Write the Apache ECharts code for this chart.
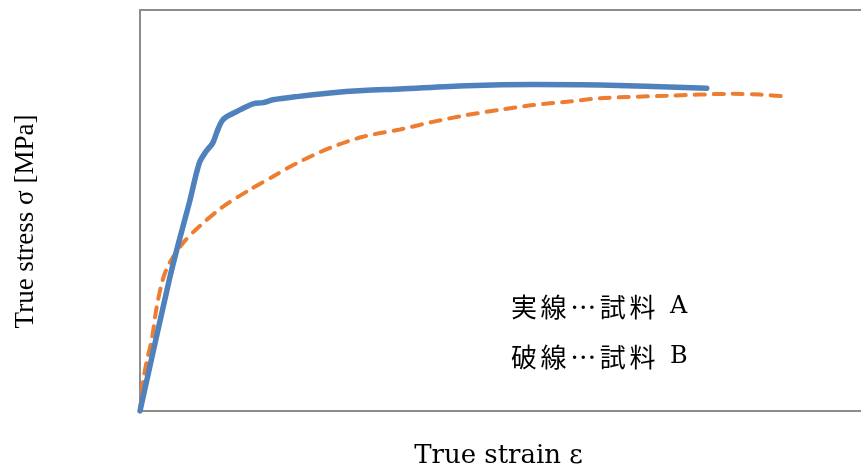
<!DOCTYPE html>
<html><head><meta charset="utf-8">
<script src="https://cdn.jsdelivr.net/npm/echarts@6/dist/echarts.min.js"></script>
<style>html,body{margin:0;padding:0;background:#fff}#c{width:861px;height:470px}</style>
</head><body><div id="c"></div>
<script>
// True strain (arbitrary units 0-100), true stress (arbitrary units 0-100)
const strainA = [0, 4.06, 5.45, 6.84, 8.22, 9.15, 10.08, 10.78, 11.37, 12.02, 13.87, 15.67, 17.06, 18.45, 21.73, 26.35, 30.93, 36.06, 45.31, 54.51, 63.8, 78.6];
const stressA = [0, 32.7, 42.6, 51.9, 61.8, 64.7, 66.8, 70.1, 72.3, 73.4, 75.1, 76.6, 76.9, 77.6, 78.4, 79.3, 79.9, 80.3, 81.1, 81.4, 81.3, 80.5];
const strainB = [0, 0.46, 0.97, 1.62, 2.32, 3.15, 4.06, 5.92, 8.22, 11.47, 15.16, 18.86, 21.73, 26.35, 30.93, 36.06, 40.6, 45.3, 49.9, 54.5, 59.2, 63.8, 73.0, 82.2, 86.0, 89.7];
const stressB = [0, 7.7, 12.7, 17.7, 26.0, 32.7, 36.8, 41.8, 46.0, 50.9, 55.1, 58.9, 61.8, 65.6, 68.4, 70.2, 72.1, 73.8, 75.1, 76.3, 77.1, 78.0, 78.6, 79.1, 78.9, 78.4];
const xTitle = 'True strain ε';
const yTitle = 'True stress σ [MPa]';
const notesJa = ['実線…試料', '破線…試料'];
const notesId = ['A', 'B'];

const chart = echarts.init(document.getElementById('c'));
const axisLineStyle = {show: true, lineStyle: {color: '#8c8c8c', width: 2}};
function noteText(ja, id) {
  return Array.from(ja).map(ch => '{c|' + ch + '}').join('') + '{l|' + id + '}';
}
chart.setOption({
  animation: false,
  backgroundColor: '#fff',
  grid: {left: 140, right: 0, top: 10, bottom: 59, containLabel: false, outerBoundsMode: 'none'},
  xAxis: [{
    type: 'value', min: 0, max: 100, position: 'bottom',
    axisLine: axisLineStyle, axisTick: {show: false}, axisLabel: {show: false}, splitLine: {show: false},
    name: xTitle, nameLocation: 'middle', nameGap: 32,
    nameTextStyle: {fontFamily: 'DejaVu Serif', fontSize: 26, color: '#000', padding: [0, 4, 0, 0]}
  }, {
    type: 'value', min: 0, max: 100, position: 'top',
    axisLine: axisLineStyle, axisTick: {show: false}, axisLabel: {show: false}, splitLine: {show: false}
  }],
  yAxis: [{
    type: 'value', min: 0, max: 100,
    axisLine: axisLineStyle, axisTick: {show: false}, axisLabel: {show: false}, splitLine: {show: false},
    name: yTitle, nameLocation: 'middle', nameGap: 101,
    nameTextStyle: {fontFamily: 'Liberation Serif', fontSize: 27, color: '#000', padding: [0, 22, 0, 0]}
  }],
  series: [{
    type: 'line', xAxisIndex: 0, smooth: 0.3, showSymbol: false,
    data: strainB.map((x, i) => [x, stressB[i]]),
    lineStyle: {color: '#ED7D31', width: 4, type: [10, 9], cap: 'round'}
  }, {
    type: 'line', xAxisIndex: 0, smooth: 0.3, showSymbol: false,
    data: strainA.map((x, i) => [x, stressA[i]]),
    lineStyle: {color: '#4F81BD', width: 5.5, cap: 'round'}
  }],
  graphic: notesJa.map((t, i) => ({
    type: 'text', left: 511, top: 294 + i * 50,
    style: {
      text: noteText(t, notesId[i]),
      rich: {
        c: {fontFamily: '"Noto Sans CJK JP"', fontSize: 26, width: 29.6, align: 'left', fill: '#000', color: '#000'},
        l: {fontFamily: '"DejaVu Serif"', fontSize: 24, padding: [0, 0, 0, 11], fill: '#000', color: '#000'}
      }
    }
  }))
});
</script></body></html>
